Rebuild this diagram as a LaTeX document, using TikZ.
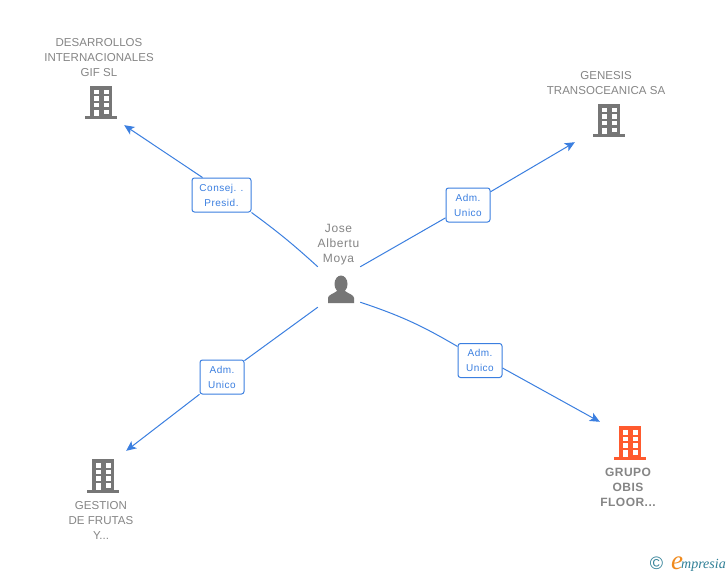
\documentclass[tikz,border=0pt]{standalone}
\usepackage{fontspec}
\setmainfont{Liberation Sans}
\newfontfamily\logofont{Liberation Serif}
\usetikzlibrary{arrows.meta}
\definecolor{linkblue}{HTML}{3B7FE0}
\definecolor{namegray}{HTML}{858585}
\definecolor{icongray}{HTML}{767676}
\definecolor{iconorange}{HTML}{FF5A2E}
\definecolor{logoteal}{HTML}{2F7F96}
\definecolor{logoorange}{HTML}{F08A1D}
\tikzset{
  link/.style={draw=linkblue,line width=1pt},
  tolink/.style={link,-{Stealth[length=10pt,width=9pt,inset=2.5pt]}},
  role/.style={draw=linkblue,fill=white,rounded corners=2.5pt,line width=1pt,
    text=linkblue,align=center,inner sep=0pt,minimum height=34pt,
    font=\fontsize{10}{15}\addfontfeature{LetterSpace=5}\selectfont},
  nametext/.style={text=namegray,align=center,inner sep=0pt,
    font=\fontsize{11.5}{15}\addfontfeature{LetterSpace=0.5}\selectfont},
  building/.style={inner sep=0pt,minimum width=32pt,minimum height=34pt,
    path picture={
      \fill[#1] (-11,-17) rectangle (11,15);
      \fill[#1] (-16,13.5) rectangle (16,16.5);
      % the windows
      \foreach \wy in {-13,-6.5,0}
        \foreach \wx in {-7,2.5}
          \fill[white] (\wx,\wy) rectangle ++(5,4.5);
      \fill[white] (-7,7) rectangle ++(5,6.5);
      \fill[white] (2.5,7) rectangle ++(5,4.5);
    }},
}
\begin{document}
\begin{tikzpicture}[x=1pt,y=-1pt]
\useasboundingbox[fill=white] (0,0) rectangle (728,575);
% the person in the middle
\node[inner sep=0pt,minimum width=42pt,minimum height=40pt,
  path picture={
    \fill[icongray] (2,-3) ellipse [x radius=6.5,y radius=8.5];
    \fill[icongray] (-11,16) -- (-11,11) .. controls (-11,8) and (-6,7) .. (-2,4)
      -- (6,4) .. controls (10,7) and (15,8) .. (15,11) -- (15,16) -- cycle;
  }] (person) at (339,287) {};
\node[nametext,font=\fontsize{12}{15}\addfontfeature{LetterSpace=5}\selectfont] (personname) at (338.5,244.5) {Jose\\Albertu\\Moya};
% the companies
\node[building=icongray] (desarrollos) at (101,103) {};
\node[nametext] (desarrollosname) at (99,58) {DESARROLLOS\\INTERNACIONALES\\GIF SL};
\node[building=icongray] (genesis) at (609,121) {};
\node[nametext] (genesisname) at (606,83.5) {GENESIS\\TRANSOCEANICA SA};
\node[building=icongray] (gestion) at (103,476) {};
\node[nametext] (gestionname) at (101,520) {GESTION\\DE FRUTAS\\Y...};
\node[building=iconorange] (grupo) at (630,443) {};
\node[nametext,font=\fontsize{12}{15}\bfseries\addfontfeature{LetterSpace=4}\selectfont] (gruponame) at (628,487) {GRUPO\\OBIS\\FLOOR...};
% the roles
\node[role,minimum width=59pt] (consej) at (221.5,195) {Consej. .\\Presid.};
\node[role,minimum width=44pt] (admgenesis) at (468,205) {Adm.\\Unico};
\node[role,minimum width=44pt] (admgestion) at (222,377) {Adm.\\Unico};
\node[role,minimum width=44pt] (admgrupo) at (480,360.5) {Adm.\\Unico};
% the connectors
\draw[link] (person.north west) to[bend right=3] (consej.south east);
\draw[tolink] ([xshift=-19pt]consej.north) -- ([shift={(7,5)}]desarrollos.south east);
\draw[link] (person.north east) -- (admgenesis);
\draw[tolink] (admgenesis) -- ([shift={(-18,4)}]genesis.south west);
\draw[link] (person.south west) -- (admgestion);
\draw[tolink] (admgestion) -- ([shift={(7,-8)}]gestion.north east);
\draw[link] ([yshift=5pt]person.south east) to[bend left=6] (admgrupo);
\draw[tolink] ([yshift=-7.5pt]admgrupo.east) -- ([shift={(-14,-4)}]grupo.north west);
% the logo
\node[inner sep=0pt,text=logoteal,font=\fontsize{18}{18}\selectfont] (copyright) at (656.5,563.5) {\textcopyright};
\node[inner sep=0pt,anchor=base west,text=logoorange,font=\logofont\itshape\fontsize{27}{27}\selectfont] (logoe) at (671,569) {e};
\node[inner sep=0pt,anchor=base west,text=logoteal,font=\logofont\itshape\fontsize{14}{14}\selectfont] (logotext) at (681,568.5) {mpresia};
\end{tikzpicture}
\end{document}
